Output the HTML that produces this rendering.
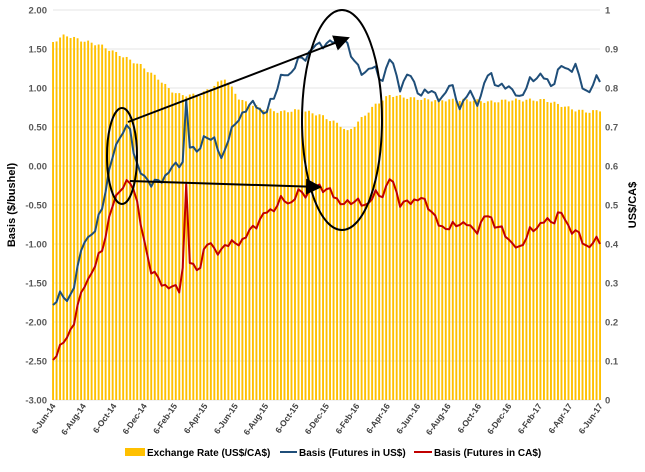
<!DOCTYPE html><html><head><style>body{margin:0;background:#fff}svg{font-family:"Liberation Sans",sans-serif}</style></head><body>
<svg id="s" width="645" height="467" xmlns="http://www.w3.org/2000/svg"></svg>
<script>
var s=document.getElementById('s'),h='';
var L=53,R=600,T=10,B=400;
for(var k=0;k<=10;k++){var y=T+k*39;h+='<line x1="'+L+'" x2="'+R+'" y1="'+y+'" y2="'+y+'" stroke="#e6e6e6" stroke-width="1"/>';
h+='<text x="47" y="'+(y+3.5)+'" font-size="9.5" font-weight="bold" fill="#595959" text-anchor="end">'+(2-k*0.5).toFixed(2)+'</text>';
h+='<text x="605" y="'+(y+3.5)+'" font-size="9.5" font-weight="bold" fill="#595959">'+(k==0?'1':k==10?'0':(1-k/10).toFixed(1))+'</text>';}
function interp(p,x){for(var i=0;i<p.length-1;i++){if(x>=p[i][0]&&x<=p[i+1][0]){var t=(x-p[i][0])/(p[i+1][0]-p[i][0]);return p[i][1]+t*(p[i+1][1]-p[i][1]);}}return p[p.length-1][1];}
var ex=[[53,42],[65,35],[80,40],[100,45],[120,55],[140,65],[160,80],[170,90],[180,95],[200,95],[215,85],[225,78],[240,100],[260,108],[280,112],[300,110],[320,115],[340,125],[348,132],[360,120],[375,105],[390,95],[410,98],[430,100],[450,100],[470,100],[490,102],[510,100],[530,100],[545,100],[560,105],[575,110],[590,112],[600,110]];
var N=157,dx=(R-L)/(N-1);
for(var i=0;i<N;i++){var x=L+i*dx,y=interp(ex,x)+Math.sin(i*1.7)*1.5;h+='<rect x="'+(x-0.9)+'" y="'+y+'" width="1.9" height="'+(B-y)+'" fill="#ffc000"/>';}
function line(p,c,j){var pts=[];for(var i=0;i<N;i++){var x=L+i*dx;var y=interp(p,x)+(Math.sin(i*2.3)+Math.sin(i*5.1)+Math.sin(i*7.7))*j;pts.push(x.toFixed(1)+','+y.toFixed(1));}return '<polyline points="'+pts.join(' ')+'" fill="none" stroke="'+c+'" stroke-width="2" stroke-linejoin="round"/>';}
var bl=[[53,305],[60,295],[68,300],[75,283],[85,235],[95,235],[105,190],[115,150],[122,128],[130,130],[135,160],[140,170],[150,185],[160,180],[170,172],[180,160],[184,160],[186,100],[189,150],[200,145],[215,135],[222,165],[230,130],[240,118],[250,105],[255,100],[265,120],[270,100],[285,75],[300,62],[310,50],[320,45],[345,38],[360,75],[370,65],[380,80],[390,60],[400,85],[410,75],[420,95],[430,90],[440,100],[450,85],[460,105],[470,95],[480,100],[490,70],[500,90],[510,85],[520,100],[530,80],[540,75],[550,85],[560,70],[575,65],[580,85],[590,90],[597,80]];
var rd=[[53,360],[65,340],[75,320],[85,280],[95,270],[105,235],[115,200],[122,183],[130,185],[135,190],[142,230],[150,270],[160,280],[170,290],[182,285],[186,182],[189,265],[200,265],[210,240],[220,255],[230,240],[240,245],[250,230],[260,220],[265,215],[275,205],[290,200],[300,195],[310,190],[320,187],[330,190],[340,205],[350,200],[360,205],[370,200],[380,195],[390,180],[400,200],[410,205],[420,195],[430,210],[440,225],[450,230],[460,220],[470,230],[480,225],[490,215],[500,230],[510,240],[520,250],[530,230],[540,225],[550,220],[560,215],[570,225],[580,240],[590,245],[597,242]];
h+=line(bl,'#1f4e79',2.5)+line(rd,'#c00000',2.5);
h+='<defs><marker id="a" markerWidth="8" markerHeight="8" refX="7" refY="4" orient="auto"><path d="M0,0L8,4L0,8z" fill="#000"/></marker></defs>';
h+='<line x1="128" y1="122" x2="348" y2="38" stroke="#000" stroke-width="2" marker-end="url(#a)"/>';
h+='<line x1="130" y1="181" x2="320" y2="187" stroke="#000" stroke-width="2" marker-end="url(#a)"/>';
h+='<ellipse cx="122" cy="156" rx="15" ry="48" fill="none" stroke="#000" stroke-width="2"/>';
h+='<ellipse cx="342" cy="120" rx="40" ry="110" fill="none" stroke="#000" stroke-width="2"/>';
var d=['6-Jun-14','6-Aug-14','6-Oct-14','6-Dec-14','6-Feb-15','6-Apr-15','6-Jun-15','6-Aug-15','6-Oct-15','6-Dec-15','6-Feb-16','6-Apr-16','6-Jun-16','6-Aug-16','6-Oct-16','6-Dec-16','6-Feb-17','6-Apr-17','6-Jun-17'];
for(var k=0;k<d.length;k++){var x=L+k*(R-L)/18+3;h+='<text transform="translate('+x+',406) rotate(-55)" font-size="8.5" font-weight="bold" fill="#404040" text-anchor="end">'+d[k]+'</text>';}
h+='<text transform="translate(15,205) rotate(-90)" font-size="11" font-weight="bold" fill="#000" text-anchor="middle">Basis ($/bushel)</text>';
h+='<text transform="translate(636,205) rotate(-90)" font-size="11" font-weight="bold" fill="#000" text-anchor="middle">US$/CA$</text>';
h+='<rect x="125" y="448" width="20" height="8" fill="#ffc000"/><text x="147" y="456" font-size="10" font-weight="bold">Exchange Rate (US$/CA$)</text>';
h+='<line x1="280" x2="297" y1="452" y2="452" stroke="#1f4e79" stroke-width="2"/><text x="299" y="456" font-size="10" font-weight="bold">Basis (Futures in US$)</text>';
h+='<line x1="414" x2="432" y1="452" y2="452" stroke="#c00000" stroke-width="2"/><text x="434" y="456" font-size="10" font-weight="bold">Basis (Futures in CA$)</text>';
s.innerHTML=h;
</script></body></html>
